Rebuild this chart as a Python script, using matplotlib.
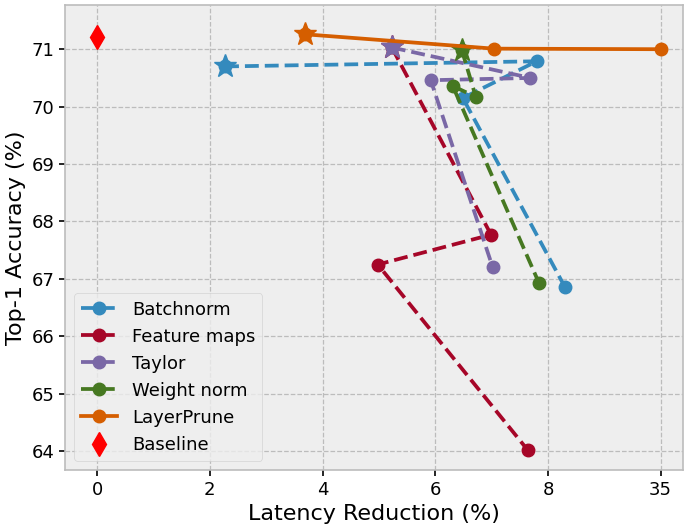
import matplotlib
matplotlib.use("Agg")
import matplotlib.pyplot as plt

plt.style.use("bmh")

# latency reduction (x) and top-1 accuracy (y); first point of each method is the star
bn_x = [2.27, 7.8, 6.49, 8.3]
bn_y = [70.70, 70.79, 70.15, 66.86]

fm_x = [5.23, 6.99, 4.98, 7.64]
fm_y = [71.03, 67.77, 67.25, 64.02]

ty_x = [5.23, 7.69, 5.92, 7.02]
ty_y = [71.03, 70.50, 70.46, 67.20]

wn_x = [6.47, 6.72, 6.31, 7.84]
wn_y = [70.99, 70.17, 70.36, 66.93]

lp_x = [3.69, 7.04, 10.0]
lp_y = [71.26, 71.01, 71.00]

base_x = [0]
base_y = [71.21]

xticks = [0, 2, 4, 6, 8, 10]
xticklabels = ['0', '2', '4', '6', '8', '35']

fig = plt.figure(figsize=(6.88, 5.27), dpi=100)
ax = fig.add_axes([0.0945, 0.108, 0.8985, 0.8825])

series = [
    (bn_x, bn_y, '#348ABD', '--', 'Batchnorm'),
    (fm_x, fm_y, '#A60628', '--', 'Feature maps'),
    (ty_x, ty_y, '#7A68A6', '--', 'Taylor'),
    (wn_x, wn_y, '#467821', '--', 'Weight norm'),
    (lp_x, lp_y, '#D55E00', '-', 'LayerPrune'),
]

for xs, ys, c, ls, name in series:
    ax.plot(xs, ys, linestyle=ls, color=c, lw=2.7, marker='o', ms=9, label=name)
    ax.plot(xs[0], ys[0], marker='*', color=c, ms=17, linestyle='none')

ax.plot(base_x, base_y, marker='d', color='red', ms=12, linestyle='none', label='Baseline')

ax.set_xticks(xticks)
ax.set_xticklabels(xticklabels)
ax.set_xlim(-0.57, 10.4)
ax.set_ylim(63.67, 71.77)
ax.tick_params(labelsize=13, direction='out', length=4, width=1.2, color='black')
ax.set_xlabel('Latency Reduction (%)', fontsize=16)
ax.set_ylabel('Top-1 Accuracy (%)', fontsize=16)
ax.grid(True, linestyle='--', color='#bcbcbc', lw=0.9)
for s in ax.spines.values():
    s.set_color('#bcbcbc')
    s.set_linewidth(1.2)
ax.legend(loc='lower left', fontsize=13, handlelength=2.0, handletextpad=0.8)

fig.savefig('out.png', dpi=100)
